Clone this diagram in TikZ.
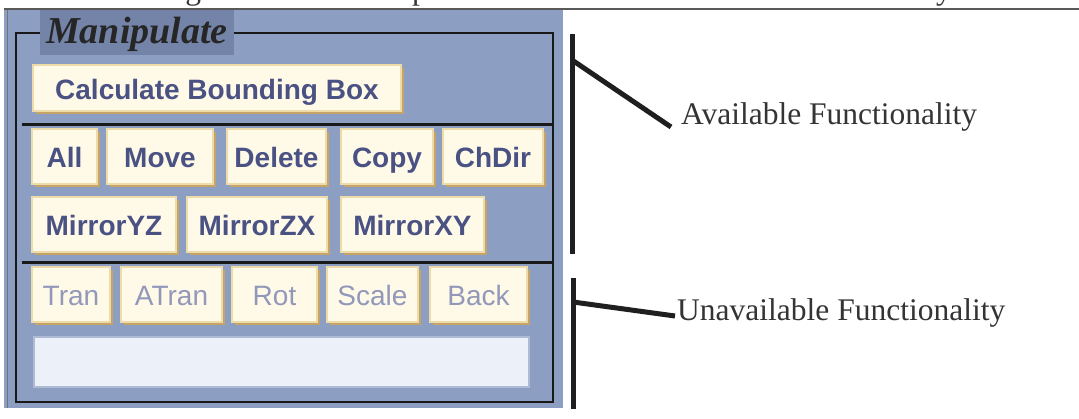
\documentclass[tikz,border=0pt]{standalone}
\usepackage{fontspec}
\setmainfont{Liberation Serif}
\newfontfamily\guifont{Liberation Sans}
\usepackage{xcolor}
\definecolor{panelblue}{RGB}{140,158,194}
\definecolor{titleblue}{RGB}{116,131,168}
\definecolor{btnface}{RGB}{255,249,232}
\definecolor{btnlight}{RGB}{238,220,168}
\definecolor{btnshade}{RGB}{198,164,104}
\definecolor{btntext}{RGB}{74,82,132}
\definecolor{greytext}{RGB}{146,152,186}
\definecolor{fieldface}{RGB}{236,241,249}
\definecolor{inkgrey}{RGB}{52,52,54}
\usetikzlibrary{positioning,calc}

\tikzset{
  btn/.style={rectangle, fill=btnface, draw=btnlight, line width=1.5pt, inner sep=0pt,
    text height=26pt, text depth=4pt,
    font=\guifont\bfseries\fontsize{28}{30}\selectfont, text=btntext,
    preaction={fill=btnshade, transform canvas={shift={(3pt,-3pt)}}}},
  offbtn/.style={btn, font=\guifont\fontsize{28}{30}\selectfont, text=greytext},
  lbl/.style={anchor=base west, inner sep=2pt, text=inkgrey,
    font=\fontsize{31.5}{36}\selectfont},
  bar/.style={line width=5pt, draw=black!88},
  sepline/.style={line width=3pt, draw=black!90},
}

\begin{document}
\begin{tikzpicture}[x=1pt,y=-1pt]
  \useasboundingbox (0,0) rectangle (1079,418);
  \clip (0,0) rectangle (1079,418);
  \fill[white] (0,0) rectangle (1079,418);

  % caption of the page, mostly above the cut
  \node[lbl] (cap) at (157,-0.5) {Figure 2-15 – Example of Selected / Unavailable Functionality};
  \draw[black!65, line width=1.2pt] (4,9) -- (1079,9);

  % the Manipulate panel
  \fill[panelblue] (4,10) rectangle (563,408);
  \draw[black!55, line width=1pt] (7,10) -- (7,408);
  \draw[black!90, line width=2.5pt] (16,33) rectangle (553,402);
  \node[anchor=base west, fill=titleblue, inner xsep=6pt, inner ysep=0pt,
    text height=33pt, text depth=12pt, text=black!85,
    font=\bfseries\itshape\fontsize{38}{40}\selectfont] (title) at (40,43) {Manipulate};

  \node[btn, minimum width=368pt, minimum height=46pt] (bbox) at (217,88) {Calculate Bounding Box};
  \draw[sepline] (22,124) -- (553,124);

  % selectable operations
  \node[btn, minimum width=65pt, minimum height=55pt] (all) at (64.5,156.5) {All};
  \node[btn, minimum width=106pt, minimum height=55pt] (move) at (160,156.5) {Move};
  \node[btn, minimum width=99pt, minimum height=55pt] (delete) at (276.5,156.5) {Delete};
  \node[btn, minimum width=92pt, minimum height=55pt] (copy) at (387,156.5) {Copy};
  \node[btn, minimum width=100pt, minimum height=55pt] (chdir) at (493,156.5) {ChDir};

  \node[btn, minimum width=144pt, minimum height=55pt] (myz) at (104,224.5) {MirrorYZ};
  \node[btn, minimum width=140pt, minimum height=55pt] (mzx) at (257,224.5) {MirrorZX};
  \node[btn, minimum width=143pt, minimum height=55pt] (mxy) at (412.5,224.5) {MirrorXY};
  \draw[sepline] (22,262) -- (553,262);

  % greyed out operations
  \node[offbtn, minimum width=78pt, minimum height=55pt] (tran) at (71,294.5) {Tran};
  \node[offbtn, minimum width=101pt, minimum height=55pt] (atran) at (171.5,294.5) {ATran};
  \node[offbtn, minimum width=85pt, minimum height=55pt] (rot) at (274.5,294.5) {Rot};
  \node[offbtn, minimum width=91pt, minimum height=55pt] (scale) at (372.5,294.5) {Scale};
  \node[offbtn, minimum width=97pt, minimum height=55pt] (back) at (478.5,294.5) {Back};

  \node[rectangle, fill=fieldface, draw=panelblue!70!white, line width=1.5pt,
    minimum width=495pt, minimum height=50pt] (field) at (281.5,362) {};

  % brackets with their labels
  \coordinate (upA) at (572,34);
  \coordinate (upB) at (572,254);
  \coordinate (upT) at (572,60);
  \coordinate (loA) at (573,278);
  \coordinate (loB) at (573,409);
  \coordinate (loT) at (573,302);
  \node[lbl] (avail) at (679,124) {Available Functionality};
  \node[lbl] (unavail) at (675,320) {Unavailable Functionality};

  \draw[bar] (upA) -- (upB);
  \draw[bar] (upT) -- ($(avail.base west)+(-8,3)$);
  \draw[bar] (loA) -- (loB);
  \draw[bar] (loT) -- ($(unavail.base west)+(0,-4)$);
\end{tikzpicture}
\end{document}
